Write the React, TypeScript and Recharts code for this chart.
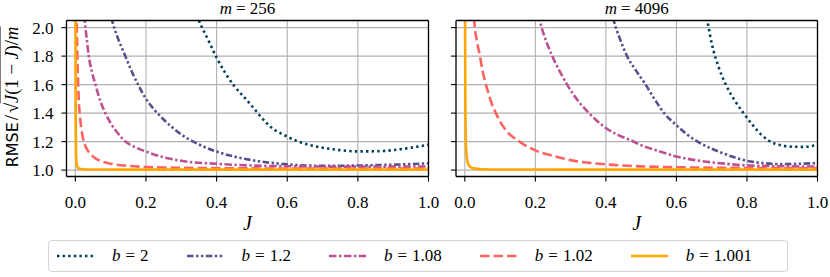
import { CartesianGrid, Label, Line, LineChart, ReferenceLine, XAxis, YAxis } from "recharts";

const X_TICKS = [0, 0.2, 0.4, 0.6, 0.8, 1.0];
const Y_TICKS = [1.0, 1.2, 1.4, 1.6, 1.8, 2.0];
const X_DOMAIN: [number, number] = [-0.025, 1.0];
const Y_DOMAIN: [number, number] = [0.955, 2.05];

const BASES = ["2", "1.2", "1.08", "1.02", "1.001"];
const COLORS = ["#003f5c", "#58508d", "#bc5090", "#ff6361", "#ffa600"];
const DASHES = ["2.4 3.2", "6.5 2.5 2.4 2.5 2.4 2.5", "7.5 2.5 2.4 2.5", "9.5 4", undefined];

// m = 256
const J_256_B2 = [0.33, 0.35, 0.375, 0.4, 0.425, 0.45, 0.475, 0.5, 0.525, 0.55, 0.6, 0.65, 0.7, 0.75, 0.8, 0.85, 0.9, 0.95, 1.0];
const R_256_B2 = [2.2, 2.05, 1.92, 1.79, 1.68, 1.59, 1.52, 1.45, 1.375, 1.31, 1.235, 1.185, 1.157, 1.14, 1.131, 1.132, 1.14, 1.157, 1.178];
const J_256_B12 = [0.09, 0.104, 0.12, 0.14, 0.16, 0.18, 0.2, 0.225, 0.25, 0.3, 0.35, 0.4, 0.45, 0.5, 0.6, 0.7, 0.8, 0.9, 1.0];
const R_256_B12 = [2.2, 2.05, 1.93, 1.81, 1.69, 1.59, 1.5, 1.42, 1.355, 1.25, 1.18, 1.13, 1.095, 1.07, 1.04, 1.03, 1.032, 1.038, 1.047];
const J_256_B108 = [0.02, 0.027, 0.032, 0.038, 0.047, 0.057, 0.07, 0.085, 0.1, 0.12, 0.142, 0.17, 0.2, 0.25, 0.3, 0.4, 0.5, 0.6, 0.8, 1.0];
const R_256_B108 = [2.4, 2.04, 1.93, 1.8, 1.69, 1.6, 1.49, 1.4, 1.33, 1.26, 1.2, 1.16, 1.13, 1.09, 1.065, 1.044, 1.032, 1.027, 1.024, 1.025];
const J_256_B102 = [0.002, 0.004, 0.006, 0.008, 0.01, 0.013, 0.017, 0.022, 0.03, 0.04, 0.05, 0.07, 0.1, 0.15, 0.2, 0.3, 0.5, 0.7, 1.0];
const R_256_B102 = [2.6, 2.05, 1.78, 1.6, 1.48, 1.38, 1.29, 1.22, 1.16, 1.12, 1.095, 1.065, 1.045, 1.03, 1.022, 1.016, 1.012, 1.01, 1.01];
const J_256_B1001 = [0.0002, 0.0005, 0.001, 0.002, 0.004, 0.008, 0.015, 0.05, 0.2, 1.0];
const R_256_B1001 = [3.0, 2.0, 1.4, 1.12, 1.04, 1.015, 1.008, 1.004, 1.003, 1.003];

// m = 4096
const J_4096_B2 = [0.67, 0.688, 0.7, 0.72, 0.74, 0.765, 0.79, 0.815, 0.84, 0.86, 0.88, 0.9, 0.93, 0.96, 1.0];
const R_4096_B2 = [2.3, 2.045, 1.89, 1.72, 1.6, 1.49, 1.4, 1.32, 1.25, 1.21, 1.185, 1.172, 1.164, 1.163, 1.178];
const J_4096_B12 = [0.41, 0.423, 0.44, 0.46, 0.485, 0.51, 0.54, 0.565, 0.6, 0.63, 0.66, 0.7, 0.73, 0.77, 0.8, 0.85, 0.9, 1.0];
const R_4096_B12 = [2.2, 2.045, 1.92, 1.8, 1.7, 1.61, 1.49, 1.4, 1.315, 1.25, 1.2, 1.15, 1.12, 1.085, 1.065, 1.048, 1.042, 1.049];
const J_4096_B108 = [0.2, 0.213, 0.23, 0.248, 0.27, 0.29, 0.32, 0.352, 0.4, 0.44, 0.47, 0.5, 0.537, 0.6, 0.666, 0.73, 0.8, 0.9, 1.0];
const R_4096_B108 = [2.2, 2.045, 1.91, 1.8, 1.69, 1.6, 1.49, 1.4, 1.295, 1.24, 1.21, 1.175, 1.143, 1.096, 1.065, 1.047, 1.033, 1.027, 1.025];
const J_4096_B102 = [0.02, 0.027, 0.034, 0.043, 0.05, 0.06, 0.073, 0.088, 0.1, 0.12, 0.155, 0.2, 0.25, 0.3, 0.4, 0.5, 0.6, 0.8, 1.0];
const R_4096_B102 = [2.45, 2.045, 1.91, 1.8, 1.7, 1.6, 1.49, 1.4, 1.34, 1.27, 1.2, 1.138, 1.1, 1.07, 1.04, 1.026, 1.02, 1.015, 1.013];
const J_4096_B1001 = [0.0003, 0.0008, 0.0015, 0.003, 0.006, 0.01, 0.016, 0.025, 0.05, 0.1, 0.3, 1.0];
const R_4096_B1001 = [3.0, 2.0, 1.5, 1.2, 1.08, 1.04, 1.022, 1.012, 1.006, 1.004, 1.003, 1.003];

const zip = (js: number[], rs: number[]) => js.map((j, i) => ({ j, r: rs[i] }));

const SERIES_256 = [
  zip(J_256_B2, R_256_B2),
  zip(J_256_B12, R_256_B12),
  zip(J_256_B108, R_256_B108),
  zip(J_256_B102, R_256_B102),
  zip(J_256_B1001, R_256_B1001),
];
const SERIES_4096 = [
  zip(J_4096_B2, R_4096_B2),
  zip(J_4096_B12, R_4096_B12),
  zip(J_4096_B108, R_4096_B108),
  zip(J_4096_B102, R_4096_B102),
  zip(J_4096_B1001, R_4096_B1001),
];

const SERIF = "Liberation Serif, DejaVu Serif, Times New Roman, serif";
const FS = 17;
const LW = 2.6;

type PanelProps = {
  series: { j: number; r: number }[][];
  showYLabels: boolean;
  marginLeft: number;
  marginRight: number;
};

function Panel({ series, showYLabels, marginLeft, marginRight }: PanelProps) {
  const tickStyle = { fontSize: FS, fill: "#000", style: { fontFamily: SERIF } };
  return (
    <LineChart
      width={440}
      height={240}
      margin={{ top: 20.5, right: marginRight, bottom: 33.5, left: marginLeft }}
      style={{ fontFamily: SERIF }}
    >
      <CartesianGrid
        stroke="#b0b0b0"
        strokeWidth={1.1}
        horizontalValues={Y_TICKS}
        verticalValues={X_TICKS}
      />
      <XAxis
        dataKey="j"
        type="number"
        domain={X_DOMAIN}
        allowDataOverflow
        ticks={X_TICKS}
        tickFormatter={(v: number) => v.toFixed(1)}
        tick={tickStyle}
        tickSize={5}
        tickMargin={14}
        height={30}
        axisLine={{ stroke: "#000", strokeWidth: 1.3 }}
        tickLine={{ stroke: "#000", strokeWidth: 1.1 }}
      >
        <Label
          content={({ viewBox }: any) => (
            <text
              x={viewBox.x + viewBox.width / 2}
              y={230}
              textAnchor="middle"
              style={{ fontFamily: SERIF, fontStyle: "italic", fontSize: 20 }}
            >
              J
            </text>
          )}
        />
      </XAxis>
      <YAxis
        type="number"
        domain={Y_DOMAIN}
        allowDataOverflow
        ticks={Y_TICKS}
        tickFormatter={(v: number) => (showYLabels ? v.toFixed(1) : "")}
        tick={tickStyle}
        tickSize={5}
        tickMargin={8}
        width={60}
        axisLine={{ stroke: "#000", strokeWidth: 1.3 }}
        tickLine={{ stroke: "#000", strokeWidth: 1.1 }}
      />
      {series.map((pts, i) => (
        <Line
          key={BASES[i]}
          data={pts}
          dataKey="r"
          type="monotone"
          stroke={COLORS[i]}
          strokeWidth={LW}
          strokeDasharray={DASHES[i]}
          dot={false}
          activeDot={false}
          isAnimationActive={false}
        />
      ))}
      {/* top and right edges of the axes box */}
      <ReferenceLine y={Y_DOMAIN[1]} stroke="#000" strokeWidth={1.3} />
      <ReferenceLine x={X_DOMAIN[1]} stroke="#000" strokeWidth={1.3} />
    </LineChart>
  );
}

function Title({ m, center }: { m: number; center: number }) {
  return (
    <div
      style={{
        position: "absolute",
        left: center,
        top: 0,
        transform: "translateX(-50%)",
        fontFamily: SERIF,
        fontSize: FS,
        lineHeight: "18px",
        whiteSpace: "nowrap",
      }}
    >
      <i>m</i>
      <span style={{ margin: "0 4px" }}>=</span>
      {m}
    </div>
  );
}

function LegendBox() {
  return (
    <div
      style={{
        position: "absolute",
        left: 48,
        top: 240,
        width: 740,
        height: 32,
        boxSizing: "border-box",
        border: "1.2px solid #d3d3d3",
        borderRadius: 4,
        display: "flex",
        alignItems: "center",
        paddingLeft: 8,
        fontFamily: SERIF,
        fontSize: 17,
      }}
    >
      {BASES.map((b, i) => (
        <div key={b} style={{ display: "flex", alignItems: "center", marginRight: 38 }}>
          <svg width={37} height={6}>
            <line
              x1={0}
              y1={3}
              x2={37}
              y2={3}
              stroke={COLORS[i]}
              strokeWidth={LW}
              strokeDasharray={DASHES[i]}
            />
          </svg>
          <span style={{ marginLeft: 18, whiteSpace: "nowrap" }}>
            <i>b</i>
            <span style={{ margin: "0 5px" }}>=</span>
            {b}
          </span>
        </div>
      ))}
    </div>
  );
}

function YLabel() {
  return (
    <div
      style={{
        position: "absolute",
        left: 12,
        top: 97,
        transform: "translate(-50%, -50%) rotate(-90deg)",
        whiteSpace: "nowrap",
        fontFamily: SERIF,
        fontSize: 18.5,
        lineHeight: "22px",
      }}
    >
      <span style={{ fontFamily: "DejaVu Sans, sans-serif", fontSize: 16 }}>RMSE</span>
      <span style={{ margin: "0 2px" }}>/</span>
      <span>√</span>
      <span style={{ borderTop: "1px solid #000", paddingTop: 1 }}>
        <i>J</i>(1 − <i>J</i>)/<i>m</i>
      </span>
    </div>
  );
}

export default function App() {
  return (
    <div
      style={{
        position: "absolute",
        left: 0,
        top: 0,
        width: 830,
        height: 277,
        overflow: "hidden",
        background: "#fff",
        fontFamily: SERIF,
      }}
    >
      <div style={{ position: "absolute", left: 0, top: 0 }}>
        <Panel series={SERIES_256} showYLabels marginLeft={6.5} marginRight={11.5} />
      </div>
      <div style={{ position: "absolute", left: 390, top: 0 }}>
        <Panel series={SERIES_4096} showYLabels={false} marginLeft={6} marginRight={12.5} />
      </div>
      <Title m={256} center={247.5} />
      <Title m={4096} center={636.7} />
      <YLabel />
      <LegendBox />
    </div>
  );
}
